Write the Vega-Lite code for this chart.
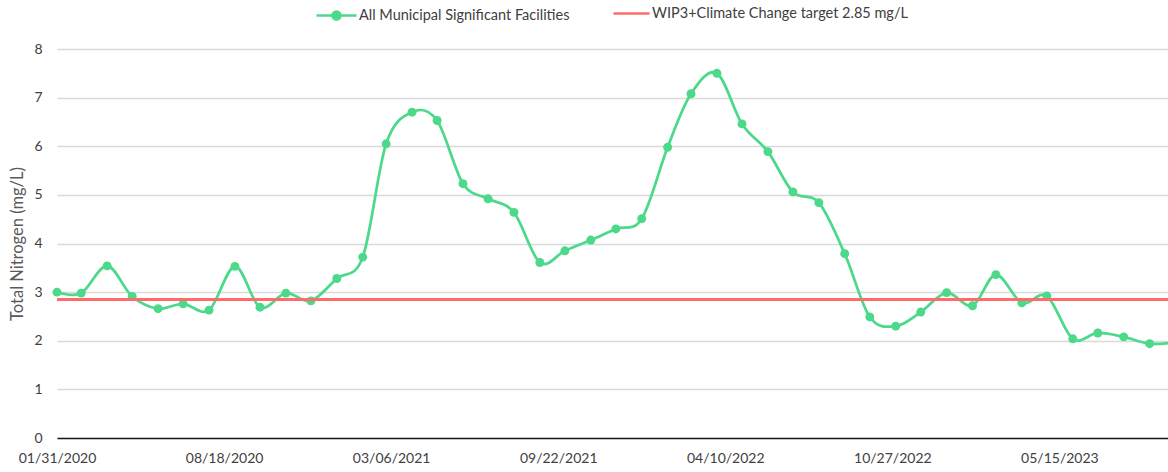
{
  "$schema": "https://vega.github.io/schema/vega-lite/v6.json",
  "width": 1111,
  "height": 389,
  "autosize": "none",
  "padding": {"left": 57, "top": 49, "right": 0, "bottom": 34},
  "background": "white",
  "config": {"view": {"stroke": null}, "font": "Lato"},
  "data": {"values": [
    {"date": "2020-01-31", "tn": 3.00},
    {"date": "2020-02-29", "tn": 2.98},
    {"date": "2020-03-31", "tn": 3.54},
    {"date": "2020-04-30", "tn": 2.91},
    {"date": "2020-05-31", "tn": 2.66},
    {"date": "2020-06-30", "tn": 2.76},
    {"date": "2020-07-31", "tn": 2.63},
    {"date": "2020-08-31", "tn": 3.53},
    {"date": "2020-09-30", "tn": 2.69},
    {"date": "2020-10-31", "tn": 2.98},
    {"date": "2020-11-30", "tn": 2.82},
    {"date": "2020-12-31", "tn": 3.28},
    {"date": "2021-01-31", "tn": 3.72},
    {"date": "2021-02-28", "tn": 6.05},
    {"date": "2021-03-31", "tn": 6.70},
    {"date": "2021-04-30", "tn": 6.53},
    {"date": "2021-05-31", "tn": 5.23},
    {"date": "2021-06-30", "tn": 4.92},
    {"date": "2021-07-31", "tn": 4.64},
    {"date": "2021-08-31", "tn": 3.61},
    {"date": "2021-09-30", "tn": 3.85},
    {"date": "2021-10-31", "tn": 4.07},
    {"date": "2021-11-30", "tn": 4.30},
    {"date": "2021-12-31", "tn": 4.51},
    {"date": "2022-01-31", "tn": 5.98},
    {"date": "2022-02-28", "tn": 7.08},
    {"date": "2022-03-31", "tn": 7.50},
    {"date": "2022-04-30", "tn": 6.46},
    {"date": "2022-05-31", "tn": 5.89},
    {"date": "2022-06-30", "tn": 5.06},
    {"date": "2022-07-31", "tn": 4.84},
    {"date": "2022-08-31", "tn": 3.79},
    {"date": "2022-09-30", "tn": 2.49},
    {"date": "2022-10-31", "tn": 2.30},
    {"date": "2022-11-30", "tn": 2.59},
    {"date": "2022-12-31", "tn": 2.99},
    {"date": "2023-01-31", "tn": 2.72},
    {"date": "2023-02-28", "tn": 3.36},
    {"date": "2023-03-31", "tn": 2.78},
    {"date": "2023-04-30", "tn": 2.92},
    {"date": "2023-05-31", "tn": 2.04},
    {"date": "2023-06-30", "tn": 2.16},
    {"date": "2023-07-31", "tn": 2.08},
    {"date": "2023-08-31", "tn": 1.94},
    {"date": "2023-09-30", "tn": 1.97}
  ]},
  "encoding": {
    "x": {
      "field": "date", "type": "temporal",
      "scale": {"type": "utc", "domain": [{"year": 2020, "month": 1, "date": 31, "utc": true}, {"year": 2023, "month": 9, "date": 22, "utc": true}]},
      "axis": {
        "title": null,
        "values": [
          {"year": 2020, "month": 1, "date": 31, "utc": true},
          {"year": 2020, "month": 8, "date": 18, "utc": true},
          {"year": 2021, "month": 3, "date": 6, "utc": true},
          {"year": 2021, "month": 9, "date": 22, "utc": true},
          {"year": 2022, "month": 4, "date": 10, "utc": true},
          {"year": 2022, "month": 10, "date": 27, "utc": true},
          {"year": 2023, "month": 5, "date": 15, "utc": true}
        ],
        "format": "%m/%d/%Y",
        "grid": false, "ticks": false,
        "domainColor": "#1a1a1a", "domainWidth": 1.5,
        "labelFont": "Lato", "labelFontSize": 14, "labelColor": "#404040",
        "labelPadding": 13, "labelFlush": false, "labelOverlap": false
      }
    },
    "y": {
      "field": "tn", "type": "quantitative",
      "scale": {"domain": [0, 8], "nice": false},
      "axis": {
        "title": "Total Nitrogen (mg/L)",
        "values": [0, 1, 2, 3, 4, 5, 6, 7, 8],
        "domain": false, "ticks": false,
        "gridColor": "#d9d9d9", "gridWidth": 1.5,
        "labelFont": "Lato", "labelFontSize": 14, "labelColor": "#404040", "labelPadding": 15,
        "titleFont": "Lato", "titleFontSize": 16.5, "titleFontWeight": "normal", "titleColor": "#595959", "titlePadding": 8
      }
    }
  },
  "layer": [
    {
      "mark": {"type": "line", "interpolate": "cardinal", "strokeWidth": 2.75, "clip": true},
      "encoding": {
        "color": {
          "datum": "All Municipal Significant Facilities",
          "scale": {"range": ["#4CD98A"]},
          "legend": {
            "orient": "none", "legendX": 258, "legendY": -55, "title": null,
            "symbolType": "M-1,0H1M0.2,0A0.2,0.2,0,1,1,-0.2,0A0.2,0.2,0,1,1,0.2,0Z",
            "symbolSize": 1600, "symbolStrokeWidth": 2.5,
            "symbolFillColor": "#4CD98A", "symbolStrokeColor": "#4CD98A",
            "labelFont": "Lato", "labelFontSize": 14.5, "labelColor": "#404040", "labelOffset": 1, "labelLimit": 400
          }
        }
      }
    },
    {
      "mark": {"type": "point", "filled": true, "size": 80, "color": "#4CD98A", "opacity": 1}
    },
    {
      "mark": {"type": "rule", "strokeWidth": 2.5},
      "encoding": {
        "x": null,
        "y": {"datum": 2.85, "type": "quantitative"},
        "stroke": {
          "datum": "WIP3+Climate Change target 2.85 mg/L",
          "scale": {"range": ["#FF6B6B"]},
          "legend": {
            "orient": "none", "legendX": 555, "legendY": -55, "title": null,
            "symbolType": "stroke", "symbolSize": 1296, "symbolStrokeWidth": 2.5,
            "symbolStrokeColor": "#FF6B6B",
            "labelFont": "Lato", "labelFontSize": 14.5, "labelColor": "#404040", "labelOffset": 1, "labelLimit": 400
          }
        }
      }
    }
  ]
}
